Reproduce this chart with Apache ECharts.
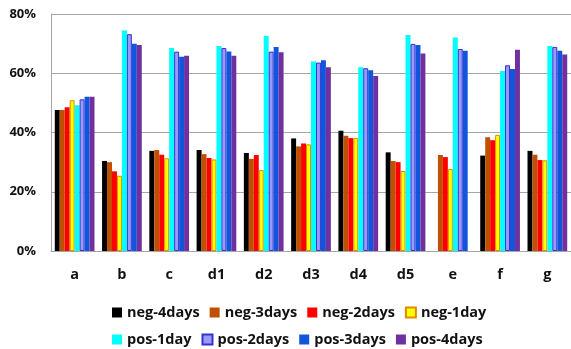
<!DOCTYPE html>
<html>
<head>
<meta charset="utf-8">
<script src="https://cdn.jsdelivr.net/npm/echarts@6/dist/echarts.min.js"></script>
<style>html,body{margin:0;padding:0;background:#fff}#c{width:571px;height:349px}</style>
</head>
<body>
<div id="c"></div>
<script>
const categories = ['a','b','c','d1','d2','d3','d4','d5','e','f','g'];
const seriesNames = ['neg-4days','neg-3days','neg-2days','neg-1day','pos-1day','pos-2days','pos-3days','pos-4days'];
const neg4 = [47.6, 30.4, 33.8, 34.1, 33.1, 38.0, 40.6, 33.3, null, 32.2, 33.8];
const neg3 = [47.6, 30.0, 34.1, 32.7, 31.1, 35.3, 38.9, 30.4, 32.4, 38.4, 32.5];
const neg2 = [48.5, 26.9, 32.5, 31.4, 32.4, 36.3, 38.1, 30.0, 31.7, 37.4, 30.7];
const neg1 = [50.9, 25.4, 31.3, 30.9, 27.3, 36.0, 38.1, 27.0, 27.7, 39.2, 30.6];
const pos1 = [49.2, 74.4, 68.5, 69.2, 72.6, 64.0, 62.0, 72.9, 72.1, 60.8, 69.2];
const pos2 = [51.2, 73.2, 67.3, 68.5, 67.3, 63.6, 61.7, 69.9, 68.2, 62.7, 68.9];
const pos3 = [52.1, 70.0, 65.6, 67.3, 68.9, 64.4, 61.0, 69.5, 67.6, 61.4, 67.6];
const pos4 = [52.1, 69.5, 65.9, 65.9, 67.1, 62.0, 59.1, 66.7, null, 67.9, 66.3];
const yTicks = [0, 20, 40, 60, 80];

const values = [neg4, neg3, neg2, neg1, pos1, pos2, pos3, pos4];
const colors = ['#000000','#c05000','#ff0000','#ffff00','#00ffff','#9999ff','#1155dd','#7030a0'];
const borders = [null, null, null, '#e08a00', null, '#3333cc', null, null];

const chart = echarts.init(document.getElementById('c'), null, {renderer:'canvas'});
const font = '"Open Sans", Lato, sans-serif';
const series = seriesNames.map((n, i) => ({
  name: n,
  type: 'bar',
  data: values[i],
  barGap: '0%',
  barCategoryGap: '16%',
  itemStyle: {
    color: colors[i],
    borderColor: borders[i] || colors[i],
    borderWidth: borders[i] ? 1 : 0
  }
}));
const legendText = {fontFamily: font, fontWeight: 'bold', fontSize: 14.5, color: '#111', width: 72};
chart.setOption({
  animation: false,
  backgroundColor: '#fff',
  grid: {left: 51, right: -6, top: 14, bottom: 98},
  xAxis: {
    type: 'category',
    data: categories,
    axisLine: {lineStyle: {color: '#a6a6a6', width: 1}},
    axisTick: {show: false},
    axisLabel: {fontFamily: font, fontWeight: 'bold', fontSize: 14.5, color: '#111', margin: 16}
  },
  yAxis: {
    type: 'value',
    min: yTicks[0], max: yTicks[yTicks.length-1], interval: 20,
    axisLine: {show: true, lineStyle: {color: '#a6a6a6', width: 1}},
    axisTick: {show: false},
    splitLine: {lineStyle: {color: '#a6a6a6', width: 1}},
    axisLabel: {formatter: '{value}%', fontFamily: font, fontWeight: 'bold', fontSize: 13, color: '#111', margin: 15}
  },
  legend: [
    {data: seriesNames.slice(0,4), left: 107, top: 300, itemWidth: 10, itemHeight: 10, itemGap: 10, icon: 'rect', textStyle: legendText},
    {data: seriesNames.slice(4), left: 107, top: 327, itemWidth: 10, itemHeight: 10, itemGap: 10, icon: 'rect', textStyle: legendText}
  ],
  series: series
});
</script>
</body>
</html>
